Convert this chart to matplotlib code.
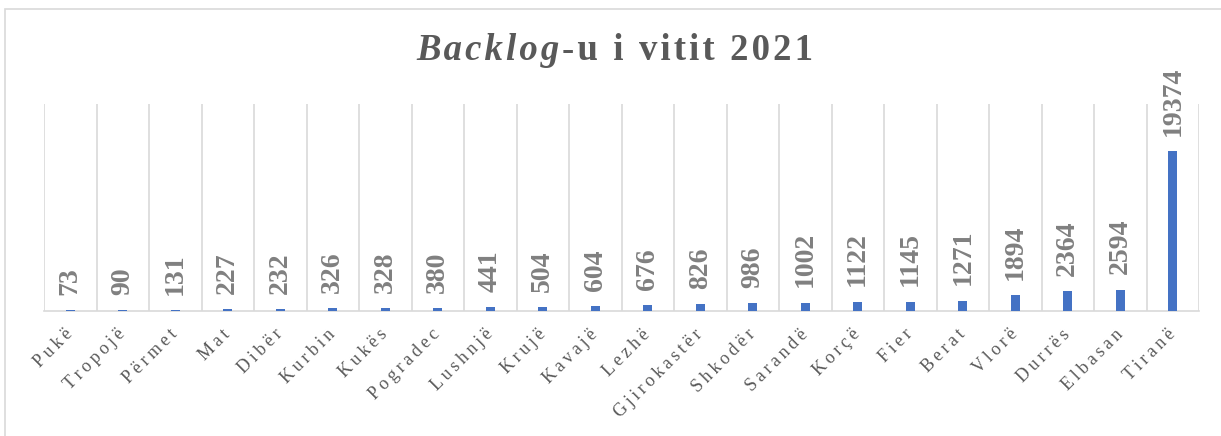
import numpy as np
import matplotlib.pyplot as plt
from matplotlib.patches import Rectangle

# Backlog i çështjeve sipas rretheve, viti 2021
rrethet = ['Pukë', 'Tropojë', 'Përmet', 'Mat', 'Dibër', 'Kurbin', 'Kukës',
           'Pogradec', 'Lushnjë', 'Krujë', 'Kavajë', 'Lezhë', 'Gjirokastër',
           'Shkodër', 'Sarandë', 'Korçë', 'Fier', 'Berat', 'Vlorë', 'Durrës',
           'Elbasan', 'Tiranë']
backlog = [73, 90, 131, 227, 232, 326, 328, 380, 441, 504, 604, 676, 826,
           986, 1002, 1122, 1145, 1271, 1894, 2364, 2594, 19374]

BLU = '#4472C4'
GRI_TEKST = '#595959'
GRI_VLERA = '#808080'
GRI_RRJETE = '#D9D9D9'
SERIF = ['Liberation Serif', 'DejaVu Serif']
HS = '\u200a'   # hair space
TS = '\u2009'   # thin space


def hapesira(s, sep=HS):
    return sep.join(list(s))


fig = plt.figure(figsize=(12.21, 4.36), dpi=100)
W, H = 1221, 436

# korniza e jashtme
fig.patches.append(Rectangle((5 / W, -0.1), 1.2, 1.1 - 9 / H, transform=fig.transFigure,
                             fill=False, edgecolor=GRI_RRJETE, linewidth=1.2))

ax = fig.add_axes([44 / W, (H - 311) / H, (1199 - 44) / W, (311 - 104) / H])

x = np.arange(len(rrethet))
ax.bar(x, backlog, width=0.17, color=BLU, zorder=3)

ax.set_xlim(-0.5, len(rrethet) - 0.5)
ax.set_ylim(0, 25070)

# vijat vertikale midis kategorive
for b in np.arange(-0.5, len(rrethet) + 0.5, 1):
    ax.axvline(b, color=GRI_RRJETE, linewidth=1.2, zorder=1)

for s in ['top', 'left', 'right']:
    ax.spines[s].set_visible(False)
ax.spines['bottom'].set_color(GRI_RRJETE)
ax.spines['bottom'].set_linewidth(1.2)

ax.set_yticks([])
ax.set_xticks(x)
ax.set_xticklabels([hapesira(r, TS) for r in rrethet], rotation=45, ha='right',
                   va='center', rotation_mode='anchor', family=SERIF,
                   fontsize=13, color=GRI_TEKST)
ax.tick_params(axis='x', length=0, pad=15)

for xi, v in zip(x, backlog):
    ax.annotate(str(v), (xi, v), xytext=(0, 11), textcoords='offset points',
                rotation=90, ha='center', va='bottom', family=SERIF,
                fontweight='bold', fontsize=20, color=GRI_VLERA)

# titulli: "Backlog" kursiv, pjesa tjetër e trashë
t1 = fig.text(0, 0, hapesira('Backlog'), family=SERIF, fontsize=26.5,
              style='italic', fontweight='bold', color=GRI_TEKST, va='baseline')
t2 = fig.text(0, 0, hapesira('-u i vitit 2021'), family=SERIF, fontsize=26.5,
              fontweight='bold', color=GRI_TEKST, va='baseline')
r = fig.canvas.get_renderer()
w1 = t1.get_window_extent(r).width
w2 = t2.get_window_extent(r).width
x0 = (613 - (w1 + w2) / 2) / W
yb = (H - 60) / H
t1.set_position((x0, yb))
t2.set_position((x0 + (w1 + 3) / W, yb))

fig.savefig('out.png', dpi=100)
